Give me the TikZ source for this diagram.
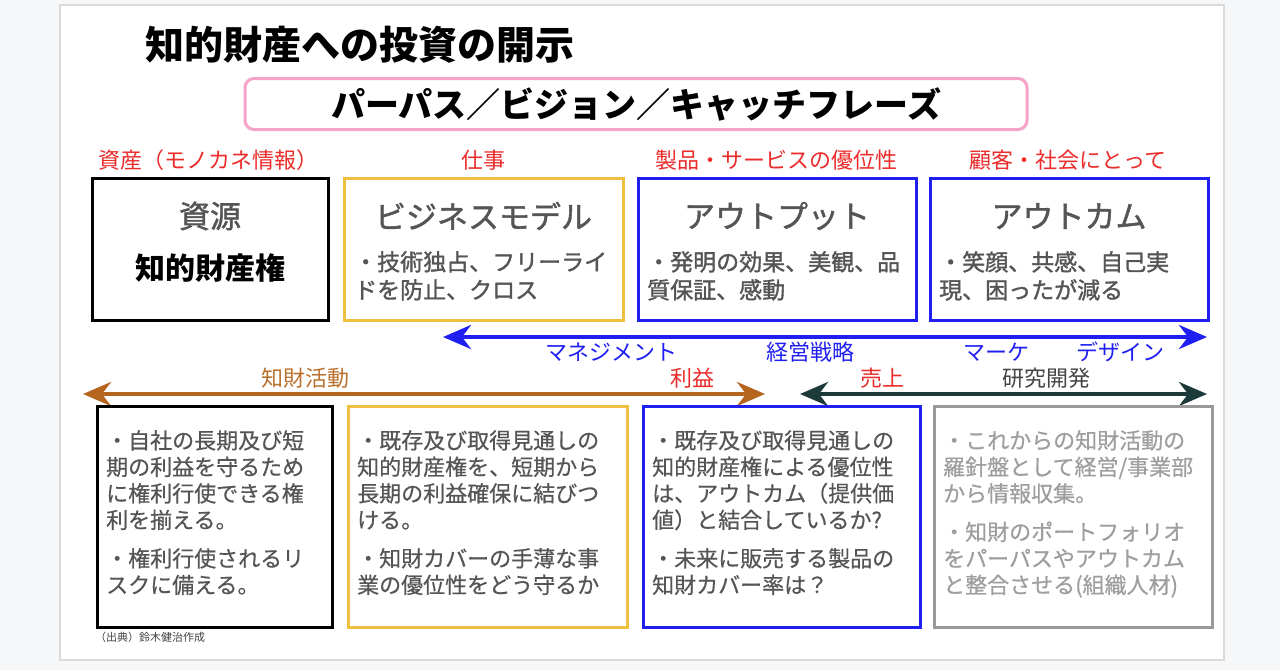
\documentclass[tikz,border=0pt]{standalone}
\usepackage{fontspec}
\setmainfont{Noto Sans CJK JP}
\newfontfamily\medfont[FakeBold=1.4]{Noto Sans CJK JP}
\newfontfamily\bodyfont[FakeBold=0.5]{Noto Sans CJK JP}
\usetikzlibrary{arrows.meta}
\definecolor{pagebg}{HTML}{F6F7F9}
\definecolor{slideedge}{HTML}{DADADA}
\definecolor{lblred}{HTML}{EC2B2B}
\definecolor{bblue}{HTML}{1F1FF2}
\definecolor{byellow}{HTML}{EFC040}
\definecolor{bgray}{HTML}{9A9A9A}
\definecolor{txtgray}{HTML}{555555}
\definecolor{lgtxt}{HTML}{9E9E9E}
\definecolor{pinkb}{HTML}{F5A3CB}
\definecolor{brownarr}{HTML}{B5651D}
\definecolor{browntxt}{HTML}{B9702C}
\definecolor{tealarr}{HTML}{1D3A3A}
\definecolor{rdtxt}{HTML}{444444}
\tikzset{
  boxframe/.style={draw=#1, line width=3pt, fill=white, inner sep=0pt},
  redlbl/.style={text=lblred, font=\fontsize{22}{25}\selectfont, inner sep=0pt},
  headtxt/.style={text=txtgray, font=\medfont\fontsize{31}{34}\selectfont, inner sep=0pt},
  topbody/.style={text=txtgray, font=\medfont\fontsize{23}{28}\selectfont, align=left, anchor=north west, inner sep=0pt},
  botbody/.style={text=#1, font=\bodyfont\fontsize{22}{26.5}\selectfont, align=left, anchor=north west, inner sep=0pt},
  arrlbl/.style={font=\fontsize{22}{25}\selectfont, inner sep=0pt},
  bigarrow/.style={line width=4pt, {Stealth[length=28pt,width=24pt,inset=9pt]}-{Stealth[length=28pt,width=24pt,inset=9pt]}}
}
\begin{document}
\begin{tikzpicture}[x=1pt,y=-1pt]
\useasboundingbox (0,0) rectangle (1280,670);
\fill[pagebg] (0,0) rectangle (1280,670);
\draw[slideedge, line width=1.5pt, fill=white] (60,5) rectangle (1224,660);

% title
\node[anchor=west, inner sep=0pt, font=\fontsize{39}{43}\selectfont\bfseries] (title) at (145,45) {知的財産への投資の開示};

% purpose box
\node[draw=pinkb, line width=3pt, rounded corners=9pt, minimum width=782pt, minimum height=51pt, inner sep=0pt, font=\fontsize{34}{38}\selectfont\bfseries] (purpose) at (636,104) {パーパス／ビジョン／キャッチフレーズ};

% red labels
\node[redlbl] (l1) at (208,160) {資産（モノカネ情報）};
\node[redlbl] (l2) at (483.5,160) {仕事};
\node[redlbl] (l3) at (776,160) {製品・サービスの優位性};
\node[redlbl] (l4) at (1068,160) {顧客・社会にとって};

% top boxes
\node[boxframe=black, minimum width=236pt, minimum height=142pt] (t1) at (210,249) {};
\node[boxframe=byellow, minimum width=279pt, minimum height=142pt] (t2) at (483.5,249) {};
\node[boxframe=bblue, minimum width=278pt, minimum height=142pt] (t3) at (777,249) {};
\node[boxframe=bblue, minimum width=278pt, minimum height=142pt] (t4) at (1069,249) {};

\node[headtxt] (h1) at (210,216) {資源};
\node[inner sep=0pt, font=\fontsize{30}{33}\selectfont\bfseries] (h1b) at (210,268) {知的財産権};
\node[headtxt] (h2) at (483.5,216) {ビジネスモデル};
\node[headtxt] (h3) at (777,216) {アウトプット};
\node[headtxt] (h4) at (1069,216) {アウトカム};

\node[topbody] (tb2) at (354,251) {・技術独占、フリーライ\\ドを防止、クロス};
\node[topbody] (tb3) at (647,251) {・発明の効果、美観、品\\質保証、感動};
\node[topbody] (tb4) at (939,251) {・笑顔、共感、自己実\\現、困ったが減る};

% management arrow
\coordinate (mL) at (443,337);
\coordinate (mR) at (1207,337);
\draw[bigarrow, bblue] (mL) -- (mR);
\node[arrlbl, text=bblue] (m1) at (611,352) {マネジメント};
\node[arrlbl, text=bblue] (m2) at (810,352) {経営戦略};
\node[arrlbl, text=bblue] (m3) at (996,352) {マーケ};
\node[arrlbl, text=bblue] (m4) at (1120,352) {デザイン};

% IP activity arrow
\coordinate (iL) at (83,394);
\coordinate (iR) at (765,394);
\draw[bigarrow, brownarr] (iL) -- (iR);
\node[arrlbl, text=browntxt] (i1) at (305,378) {知財活動};
\node[arrlbl, text=lblred] (i2) at (692,378) {利益};

% R&D arrow
\coordinate (rL) at (800,394);
\coordinate (rR) at (1207,394);
\draw[bigarrow, tealarr] (rL) -- (rR);
\node[arrlbl, text=lblred] (r1) at (882,378) {売上};
\node[arrlbl, text=rdtxt] (r2) at (1046,378) {研究開発};

% bottom boxes
\node[boxframe=black, minimum width=235pt, minimum height=221pt] (b1) at (214.5,516.5) {};
\node[boxframe=byellow, minimum width=279pt, minimum height=221pt] (b2) at (487.5,516.5) {};
\node[boxframe=bblue, minimum width=277pt, minimum height=221pt] (b3) at (781.5,516.5) {};
\node[boxframe=bgray, minimum width=278pt, minimum height=221pt] (b4) at (1073,516.5) {};

\node[botbody=txtgray] (bt1) at (106,430) {・自社の長期及び短\\期の利益を守るため\\に権利行使できる権\\利を揃える。\\[12pt]・権利行使されるリ\\スクに備える。};
\node[botbody=txtgray] (bt2) at (357,430) {・既存及び取得見通しの\\知的財産権を、短期から\\長期の利益確保に結びつ\\ける。\\[12pt]・知財カバーの手薄な事\\業の優位性をどう守るか};
\node[botbody=txtgray] (bt3) at (652,430) {・既存及び取得見通しの\\知的財産権による優位性\\は、アウトカム（提供価\\値）と結合しているか?\\[12pt]・未来に販売する製品の\\知財カバー率は？};
\node[botbody=lgtxt] (bt4) at (943,430) {・これからの知財活動の\\羅針盤として経営/事業部\\から情報収集。\\[12pt]・知財のポートフォリオ\\をパーパスやアウトカム\\と整合させる(組織人材)};

\node[anchor=west, inner sep=0pt, text=rdtxt, font=\fontsize{11}{13}\selectfont] (src) at (95,637) {（出典）鈴木健治作成};
\end{tikzpicture}
\end{document}
